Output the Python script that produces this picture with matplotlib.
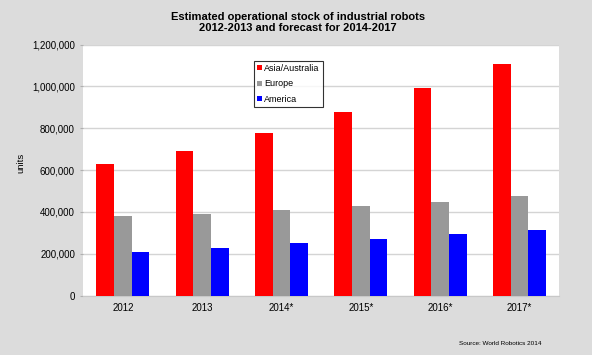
import matplotlib
matplotlib.use('Agg')
import matplotlib.pyplot as plt
import numpy as np
from matplotlib.ticker import FuncFormatter

plt.rcParams['font.family'] = ['Liberation Sans', 'DejaVu Sans']

years   = ["2012", "2013", "2014*", "2015*", "2016*", "2017*"]
asia    = [629000, 689000, 776000, 878000, 991000, 1107000]
europe  = [380000, 391000, 410000, 430000, 449000, 475000]
america = [207000, 226000, 249000, 272000, 295000, 312000]

series = [
    ("Asia/Australia", asia,    "#ff0000"),
    ("Europe",         europe,  "#999999"),
    ("America",        america, "#0000ff"),
]

bg = "#dcdcdc"
fig = plt.figure(figsize=(5.92, 3.55), dpi=100, facecolor=bg)
ax = fig.add_axes([0.1407, 0.1676, 0.8036, 0.7065])
ax.set_facecolor("white")

x = np.arange(len(years))
w = 0.223
for i, (name, vals, col) in enumerate(series):
    ax.bar(x + (i - 1) * w, vals, width=w, color=col, label=name, zorder=3)

ax.set_xlim(-0.5, len(years) - 0.5)
ax.set_ylim(0, 1200000)
ax.set_yticks(np.arange(0, 1200001, 200000))
ax.yaxis.set_major_formatter(FuncFormatter(lambda v, p: f"{int(v):,}"))
ax.set_xticks(x)
ax.set_xticklabels(years)
ax.grid(axis="y", color="#d4d4d4", linewidth=1, zorder=0)
for s in ["top", "right", "left"]:
    ax.spines[s].set_visible(False)
ax.spines["bottom"].set_color("#c8c8c8")
ax.tick_params(axis="y", length=2.5, color="#b0b0b0", labelsize=7, pad=3.5)
ax.tick_params(axis="x", length=0, labelsize=7, pad=5.5)

fig.text(0.0355, 0.541, "units", rotation=90, ha="center", va="center", fontsize=6.8)

leg = ax.legend(loc="upper left", bbox_to_anchor=(0.3595, 0.936), fontsize=6.5,
                frameon=True, fancybox=False, edgecolor="black",
                handlelength=0.45, handleheight=0.45, handletextpad=0.3,
                labelspacing=0.72, borderpad=0.35, borderaxespad=0)
leg.get_frame().set_linewidth(0.8)

fig.text(0.503, 0.937, "Estimated operational stock of industrial robots\n2012-2013 and forecast for 2014-2017",
         ha="center", va="center", fontsize=8, fontweight="bold", linespacing=1.05)
fig.text(0.914, 0.033, "Source: World Robotics 2014", ha="right", va="center", fontsize=4.6)

fig.savefig("out.png", dpi=100, facecolor=bg)
